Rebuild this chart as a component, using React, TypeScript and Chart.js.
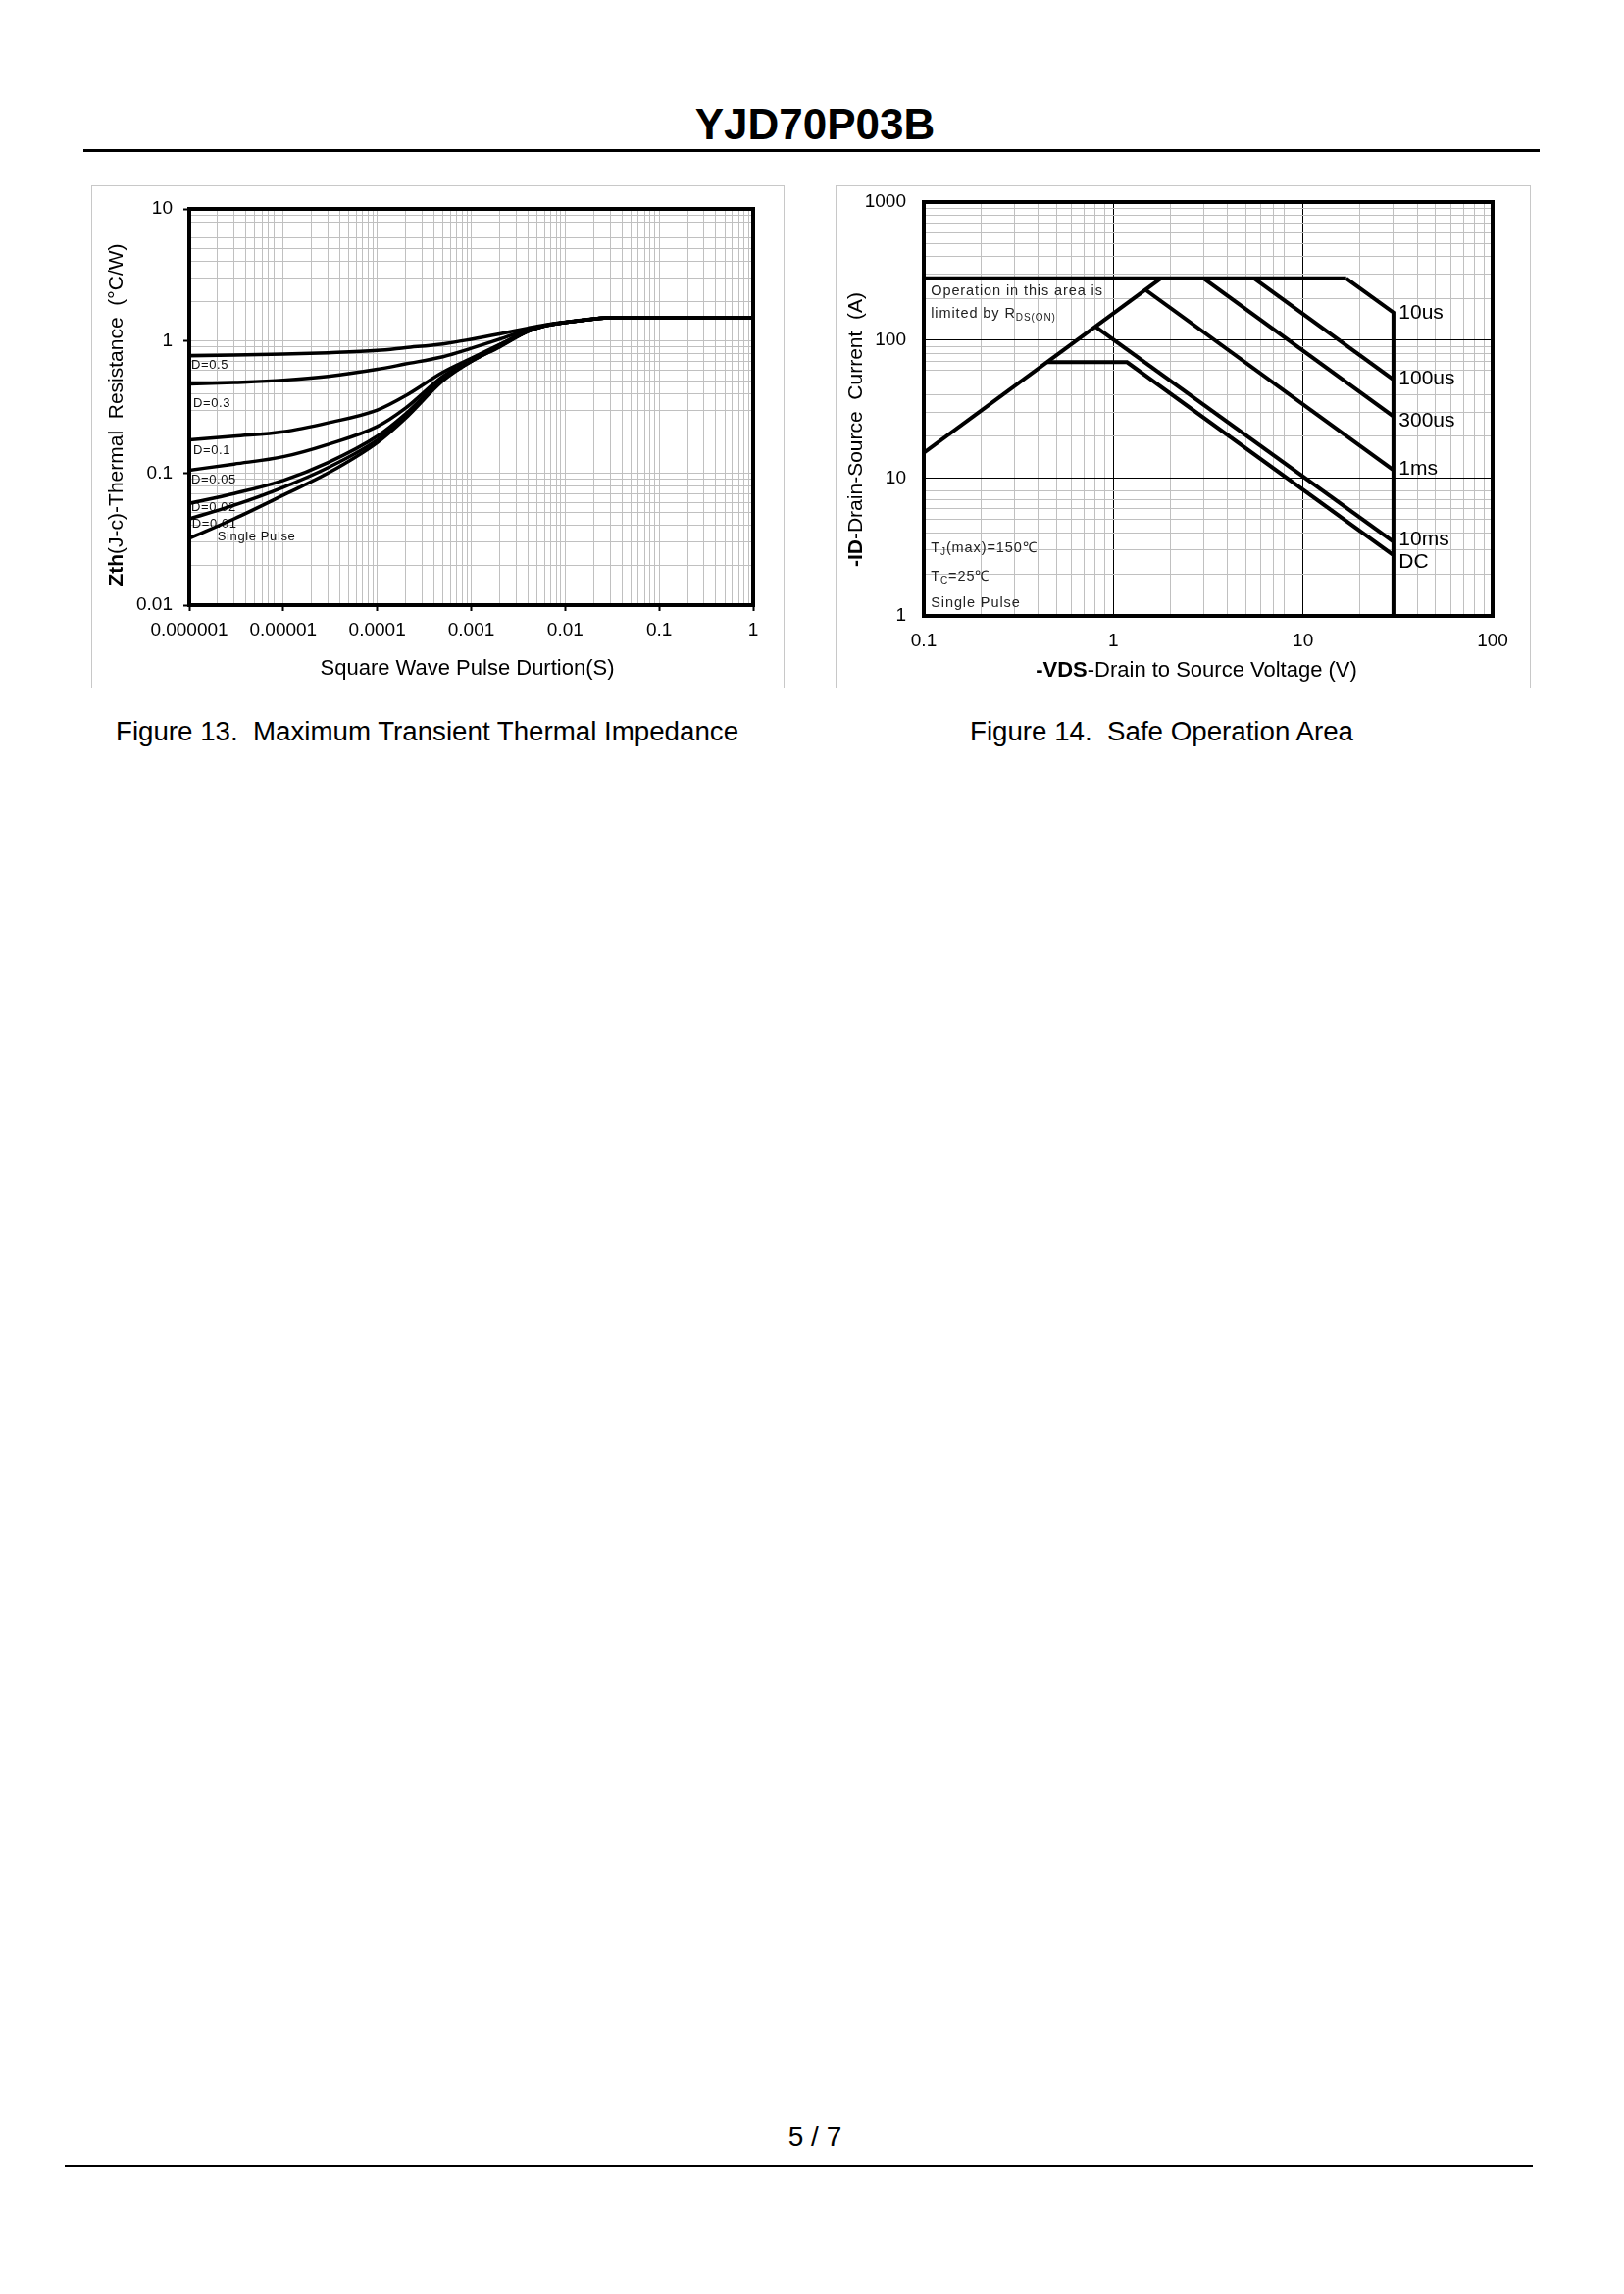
import React, { useEffect, useRef } from 'react';
import { Chart, registerables } from 'chart.js';

Chart.register(...registerables);

const FONT = '"Liberation Sans", Arial, Helvetica, sans-serif';

// ---------------- Figure 13: Maximum Transient Thermal Impedance ----------------
const zthTime = [1e-6, 3e-6, 1e-5, 3e-5, 1e-4, 2e-4, 5e-4, 1e-3, 2e-3, 4e-3, 6e-3, 1e-2, 2e-2, 3e-2, 1e-1, 1];
const zthD05 = [0.774, 0.782, 0.796, 0.815, 0.848, 0.89, 0.95, 1.03, 1.13, 1.25, 1.32, 1.39, 1.47, 1.5, 1.5, 1.5];
const zthD03 = [0.472, 0.485, 0.505, 0.54, 0.61, 0.67, 0.76, 0.88, 1.03, 1.22, 1.31, 1.385, 1.47, 1.5, 1.5, 1.5];
const zthD01 = [0.178, 0.19, 0.205, 0.24, 0.3, 0.385, 0.58, 0.74, 0.94, 1.19, 1.3, 1.38, 1.47, 1.5, 1.5, 1.5];
const zthD005 = [0.105, 0.117, 0.133, 0.165, 0.225, 0.31, 0.54, 0.72, 0.93, 1.19, 1.3, 1.38, 1.47, 1.5, 1.5, 1.5];
const zthD002 = [0.059, 0.07, 0.088, 0.12, 0.19, 0.28, 0.52, 0.71, 0.92, 1.18, 1.3, 1.38, 1.47, 1.5, 1.5, 1.5];
const zthD001 = [0.045, 0.057, 0.078, 0.11, 0.178, 0.27, 0.51, 0.7, 0.91, 1.18, 1.3, 1.38, 1.47, 1.5, 1.5, 1.5];
const zthSingle = [0.032, 0.045, 0.068, 0.1, 0.17, 0.26, 0.5, 0.7, 0.9, 1.18, 1.3, 1.38, 1.47, 1.5, 1.5, 1.5];
const zthSeriesNames = ['D=0.5', 'D=0.3', 'D=0.1', 'D=0.05', 'D=0.02', 'D=0.01', 'Single Pulse'];
const zthLabelX = [1.05e-6, 1.1e-6, 1.1e-6, 1.05e-6, 1.05e-6, 1.07e-6, 2.0e-6];
const zthLabelY = [0.656, 0.339, 0.149, 0.0893, 0.055, 0.0413, 0.033];
const zthXTickLabels = ['0.000001', '0.00001', '0.0001', '0.001', '0.01', '0.1', '1'];
const zthYTickLabels = ['0.01', '0.1', '1', '10'];

// ---------------- Figure 14: Safe Operation Area ----------------
const soaRdsLimit = [[0.1, 15.2], [1.78, 280]];
const soaCurrentLimit = [[0.1, 280], [16.9, 280]];
const soa10us = [[16.9, 280], [30, 158], [30, 1]];
const soa100us = [[5.52, 280], [30, 51.5]];
const soa300us = [[2.99, 280], [30, 27.9]];
const soa1ms = [[1.47, 232], [30, 11.4]];
const soa10ms = [[0.811, 124], [30, 3.45]];
const soaDC = [[0.448, 69], [1.18, 69], [30, 2.75]];
const soaCurveNames = ['10us', '100us', '300us', '1ms', '10ms', 'DC'];
const soaCurveLabelX = 32;
const soaCurveLabelY = [158, 52, 26, 11.6, 3.55, 2.45];
const soaNoteX = 0.109;
const soaNoteY = [224, 155, 3.09, 1.92, 1.23];
const soaXTickLabels = ['0.1', '1', '10', '100'];
const soaYTickLabels = ['1', '10', '100', '1000'];

type Seg = { t: string; bold?: boolean; sub?: boolean };

const soaNotes: Seg[][] = [
  [{ t: 'Operation in this area is' }],
  [{ t: 'limited by R' }, { t: 'DS(ON)', sub: true }],
  [{ t: 'T' }, { t: 'J', sub: true }, { t: '(max)=150℃' }],
  [{ t: 'T' }, { t: 'C', sub: true }, { t: '=25℃' }],
  [{ t: 'Single Pulse' }],
];

const isDecade = (v: number) => Math.abs(Math.log10(v) - Math.round(Math.log10(v))) < 1e-6;

function logTicks(minExp: number, maxExp: number) {
  const out: { value: number }[] = [];
  for (let e = minExp; e < maxExp; e++) {
    for (let m = 1; m <= 9; m++) out.push({ value: m * Math.pow(10, e) });
  }
  out.push({ value: Math.pow(10, maxExp) });
  return out;
}

function drawRich(
  ctx: CanvasRenderingContext2D,
  segs: Seg[],
  x: number,
  y: number,
  size: number,
  align: 'left' | 'center',
  spacing = 0,
  rotate = false,
  color = '#000'
) {
  ctx.save();
  ctx.textBaseline = 'middle';
  ctx.textAlign = 'left';
  ctx.fillStyle = color;
  (ctx as any).letterSpacing = spacing + 'px';
  const fontFor = (s: Seg) => `${s.bold ? 'bold ' : ''}${s.sub ? Math.round(size * 0.7) : size}px ${FONT}`;
  let total = 0;
  const widths = segs.map((s) => {
    ctx.font = fontFor(s);
    const w = ctx.measureText(s.t).width;
    total += w;
    return w;
  });
  ctx.translate(x, y);
  if (rotate) ctx.rotate(-Math.PI / 2);
  let cx = align === 'center' ? -total / 2 : 0;
  segs.forEach((s, i) => {
    ctx.font = fontFor(s);
    ctx.fillText(s.t, cx, s.sub ? size * 0.3 : 0);
    cx += widths[i];
  });
  ctx.restore();
}

const framePlugin = (w: number) => ({
  id: 'frame',
  afterDatasetsDraw(chart: any) {
    const { ctx, chartArea: a } = chart;
    ctx.save();
    ctx.strokeStyle = '#000';
    ctx.lineWidth = w;
    ctx.strokeRect(a.left, a.top, a.right - a.left, a.bottom - a.top);
    ctx.restore();
  },
});

function ZthChart() {
  const ref = useRef<HTMLCanvasElement>(null);
  useEffect(() => {
    const series = [zthD05, zthD03, zthD01, zthD005, zthD002, zthD001, zthSingle];
    const textPlugin = {
      id: 'zthText',
      beforeDatasetsDraw(chart: any) {
        const { ctx, scales } = chart;
        zthSeriesNames.forEach((name, i) => {
          drawRich(ctx, [{ t: name }], scales.x.getPixelForValue(zthLabelX[i]), scales.y.getPixelForValue(zthLabelY[i]), 13, 'left', 0.6, false, '#111');
        });
      },
      afterDraw(chart: any) {
        const { ctx, chartArea: a } = chart;
        const cx = (a.left + a.right) / 2;
        const cy = (a.top + a.bottom) / 2;
        drawRich(ctx, [{ t: 'Zth', bold: true }, { t: '(J-c)-Thermal  Resistance  (°C/W)' }], a.left - 73.5, cy + 8, 21, 'center', 0, true);
        drawRich(ctx, [{ t: 'Square Wave Pulse Durtion(S)' }], cx - 4, a.bottom + 65, 22, 'center');
      },
    };
    const chart = new Chart(ref.current!, {
      type: 'line',
      data: {
        datasets: series.map((s, i) => ({
          label: zthSeriesNames[i],
          data: zthTime.map((t, j) => ({ x: t, y: s[j] })),
          borderColor: '#000',
          borderWidth: 3.5,
          pointRadius: 0,
          fill: false,
          cubicInterpolationMode: 'monotone' as const,
        })),
      },
      options: {
        animation: false,
        responsive: false,
        devicePixelRatio: 1,
        layout: { padding: { top: 24, right: 31, left: 0, bottom: 0 } },
        plugins: { legend: { display: false }, tooltip: { enabled: false } },
        scales: {
          x: {
            type: 'logarithmic',
            min: 1e-6,
            max: 1,
            afterBuildTicks: (s: any) => { s.ticks = logTicks(-6, 0); },
            afterFit: (s: any) => { s.height = 85; },
            border: { display: false },
            grid: {
              color: '#c0c0c0',
              lineWidth: 1,
              drawTicks: true,
              tickLength: 6,
              tickWidth: 2,
              tickColor: (c: any) => (c.tick && isDecade(c.tick.value) ? '#000' : 'rgba(0,0,0,0)'),
            },
            ticks: {
              autoSkip: false,
              maxRotation: 0,
              minRotation: 0,
              padding: 8,
              color: '#000',
              font: { family: FONT, size: 19 },
              callback: (v: any) => (isDecade(v) ? zthXTickLabels[Math.round(Math.log10(v)) + 6] : ''),
            },
          },
          y: {
            type: 'logarithmic',
            min: 0.01,
            max: 10,
            afterBuildTicks: (s: any) => { s.ticks = logTicks(-2, 1); },
            afterFit: (s: any) => { s.width = 100; },
            border: { display: false },
            grid: {
              color: '#c0c0c0',
              lineWidth: 1,
              drawTicks: true,
              tickLength: 6,
              tickWidth: 2,
              tickColor: (c: any) => (c.tick && isDecade(c.tick.value) ? '#000' : 'rgba(0,0,0,0)'),
            },
            ticks: {
              autoSkip: false,
              padding: 11,
              color: '#000',
              font: { family: FONT, size: 19 },
              callback: (v: any) => (isDecade(v) ? zthYTickLabels[Math.round(Math.log10(v)) + 2] : ''),
            },
          },
        },
      } as any,
      plugins: [textPlugin, framePlugin(4)],
    });
    return () => chart.destroy();
  }, []);
  return <canvas ref={ref} width={706} height={513} style={{ position: 'absolute', left: 93, top: 189 }} />;
}

function SoaChart() {
  const ref = useRef<HTMLCanvasElement>(null);
  useEffect(() => {
    const lines = [soaRdsLimit, soaCurrentLimit, soa10us, soa100us, soa300us, soa1ms, soa10ms, soaDC];
    const textPlugin = {
      id: 'soaText',
      afterDatasetsDraw(chart: any) {
        const { ctx, scales } = chart;
        soaNotes.forEach((segs, i) => {
          drawRich(ctx, segs, scales.x.getPixelForValue(soaNoteX), scales.y.getPixelForValue(soaNoteY[i]), 14.5, 'left', 0.9, false, '#222');
        });
        soaCurveNames.forEach((name, i) => {
          drawRich(ctx, [{ t: name }], scales.x.getPixelForValue(soaCurveLabelX), scales.y.getPixelForValue(soaCurveLabelY[i]), 21, 'left');
        });
      },
      afterDraw(chart: any) {
        const { ctx, chartArea: a } = chart;
        const cx = (a.left + a.right) / 2;
        const cy = (a.top + a.bottom) / 2;
        drawRich(ctx, [{ t: '-ID', bold: true }, { t: '-Drain-Source  Current  (A)' }], a.left - 69, cy + 21, 21, 'center', 0, true);
        drawRich(ctx, [{ t: '-VDS', bold: true }, { t: '-Drain to Source Voltage (V)' }], cx - 12, a.bottom + 56, 22, 'center');
      },
    };
    const chart = new Chart(ref.current!, {
      type: 'line',
      data: {
        datasets: lines.map((pts, i) => ({
          label: 'soa' + i,
          data: pts.map((p) => ({ x: p[0], y: p[1] })),
          borderColor: '#000',
          borderWidth: 4,
          pointRadius: 0,
          fill: false,
          tension: 0,
          borderJoinStyle: 'miter' as const,
        })),
      },
      options: {
        animation: false,
        responsive: false,
        devicePixelRatio: 1,
        layout: { padding: { top: 17, right: 39, left: 0, bottom: 0 } },
        plugins: { legend: { display: false }, tooltip: { enabled: false } },
        scales: {
          x: {
            type: 'logarithmic',
            min: 0.1,
            max: 100,
            afterBuildTicks: (s: any) => { s.ticks = logTicks(-1, 2); },
            afterFit: (s: any) => { s.height = 74; },
            border: { display: false },
            grid: {
              color: (c: any) => (c.tick && isDecade(c.tick.value) ? '#000' : '#c0c0c0'),
              lineWidth: 1,
              drawTicks: false,
            },
            ticks: {
              autoSkip: false,
              maxRotation: 0,
              minRotation: 0,
              padding: 14,
              color: '#000',
              font: { family: FONT, size: 19 },
              callback: (v: any) => (isDecade(v) ? soaXTickLabels[Math.round(Math.log10(v)) + 1] : ''),
            },
          },
          y: {
            type: 'logarithmic',
            min: 1,
            max: 1000,
            afterBuildTicks: (s: any) => { s.ticks = logTicks(0, 3); },
            afterFit: (s: any) => { s.width = 90; },
            border: { display: false },
            grid: {
              color: (c: any) => (c.tick && isDecade(c.tick.value) ? '#000' : '#c0c0c0'),
              lineWidth: 1,
              drawTicks: true,
              tickLength: 13,
              tickColor: 'rgba(0,0,0,0)',
            },
            ticks: {
              autoSkip: false,
              padding: 5,
              color: '#000',
              font: { family: FONT, size: 19 },
              callback: (v: any) => (isDecade(v) ? soaYTickLabels[Math.round(Math.log10(v))] : ''),
            },
          },
        },
      } as any,
      plugins: [textPlugin, framePlugin(4)],
    });
    return () => chart.destroy();
  }, []);
  return <canvas ref={ref} width={709} height={513} style={{ position: 'absolute', left: 852, top: 189 }} />;
}

const abs = (s: React.CSSProperties): React.CSSProperties => ({ position: 'absolute', ...s });

export default function App() {
  const text: React.CSSProperties = { fontFamily: FONT, lineHeight: 1, whiteSpace: 'pre', color: '#000', margin: 0 };
  return (
    <div style={{ position: 'absolute', left: 0, top: 0, width: 1656, height: 2339, background: '#fff', overflow: 'hidden' }}>
      <div style={abs({ ...text, left: 631, top: 104.8, width: 400, textAlign: 'center', fontSize: 44, fontWeight: 'bold' })}>YJD70P03B</div>
      <div style={abs({ left: 85, top: 152, width: 1485, height: 3, background: '#000' })} />

      <div style={abs({ left: 93, top: 189, width: 707, height: 513, border: '1px solid #c8c8c8', boxSizing: 'border-box' })} />
      <div style={abs({ left: 852, top: 189, width: 709, height: 513, border: '1px solid #c8c8c8', boxSizing: 'border-box' })} />
      <ZthChart />
      <SoaChart />

      <div style={abs({ ...text, left: 118, top: 732, fontSize: 27.7 })}>Figure 13.  Maximum Transient Thermal Impedance</div>
      <div style={abs({ ...text, left: 989, top: 732, fontSize: 27.7 })}>Figure 14.  Safe Operation Area</div>

      <div style={abs({ ...text, left: 731, top: 2165.3, width: 200, textAlign: 'center', fontSize: 28 })}>5 / 7</div>
      <div style={abs({ left: 66, top: 2207, width: 1497, height: 3, background: '#000' })} />
    </div>
  );
}
